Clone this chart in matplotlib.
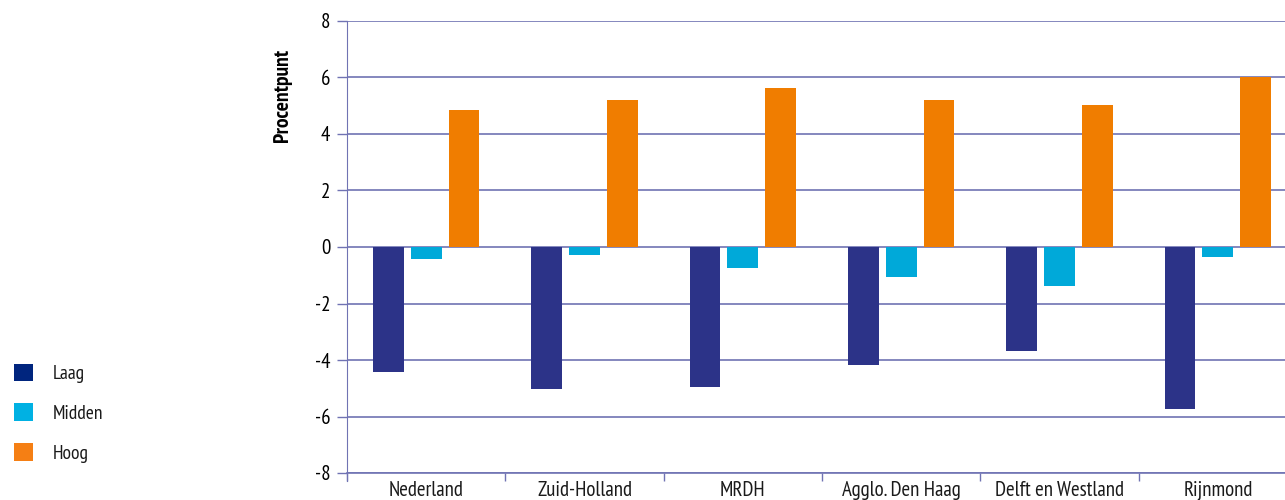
import numpy as np
import matplotlib
matplotlib.use("Agg")
from matplotlib import pyplot as plt
from matplotlib.patches import Patch
from matplotlib.transforms import blended_transform_factory

regions = ["Nederland", "Zuid-Holland", "MRDH", "Agglo. Den Haag", "Delft en Westland", "Rijnmond"]
laag = [-4.42, -5.03, -4.96, -4.18, -3.68, -5.73]
midden = [-0.42, -0.28, -0.74, -1.06, -1.38, -0.35]
hoog = [4.85, 5.2, 5.63, 5.2, 5.03, 6.02]
series_names = ["Laag", "Midden", "Hoog"]

bar_colors = ["#2c3388", "#00a9d9", "#f07d00"]
legend_colors = ["#00257e", "#00b1e3", "#f57f14"]
grid_color = "#7073b3"

plt.rcParams["font.family"] = ["PT Sans Narrow", "DejaVu Sans"]
plt.rcParams["font.size"] = 14
plt.rcParams["text.color"] = "#1a1a1a"

fig = plt.figure(figsize=(12.85, 5), dpi=100)
ax = fig.add_axes([347 / 1285, 27 / 500, 950 / 1285, 452 / 500])

x = np.arange(len(regions))
w = 0.195
step = 0.239
for i, (vals, col) in enumerate(zip([laag, midden, hoog], bar_colors)):
    ax.bar(x + (i - 1) * step, vals, width=w, color=col, zorder=3)

ax.set_ylim(-8, 8)
ax.set_xlim(-0.5, len(regions) - 0.5)
ax.set_yticks(np.arange(-8, 9, 2))
ax.set_yticklabels([str(v) for v in range(-8, 9, 2)])
ax.yaxis.grid(True, color=grid_color, linewidth=1.2, zorder=0)
ax.set_axisbelow(True)

# category names as text so they all sit on one baseline
ax.set_xticks(np.arange(-0.5, len(regions), 1))
ax.set_xticklabels([])
ax.tick_params(axis="x", length=6, color=grid_color, width=1)
trans = blended_transform_factory(ax.transData, ax.transAxes)
for xi, name in zip(x, regions):
    ax.text(xi, -0.05, name, transform=trans, ha="center", va="baseline", fontsize=15)
ax.tick_params(axis="y", length=7, color=grid_color, width=1, pad=5, labelsize=15)

for s in ["top", "right"]:
    ax.spines[s].set_visible(False)
ax.spines["left"].set_color(grid_color)
ax.spines["left"].set_bounds(-8.3, 8)
ax.spines["bottom"].set_color(grid_color)
ax.spines["bottom"].set_linewidth(1.2)

ax.set_ylabel("Procentpunt", fontweight="bold", fontsize=15.5)
ax.yaxis.set_label_coords(-0.058, 0.836)

handles = [Patch(facecolor=c, edgecolor="none") for c in legend_colors]
fig.legend(handles, series_names, loc="upper left", bbox_to_anchor=(0.0, 1 - 350 / 500),
           frameon=False, fontsize=14, handlelength=1.0, handleheight=1.0,
           labelspacing=1.05, handletextpad=1.0, borderaxespad=0.3)

fig.savefig("out.png", dpi=100)
